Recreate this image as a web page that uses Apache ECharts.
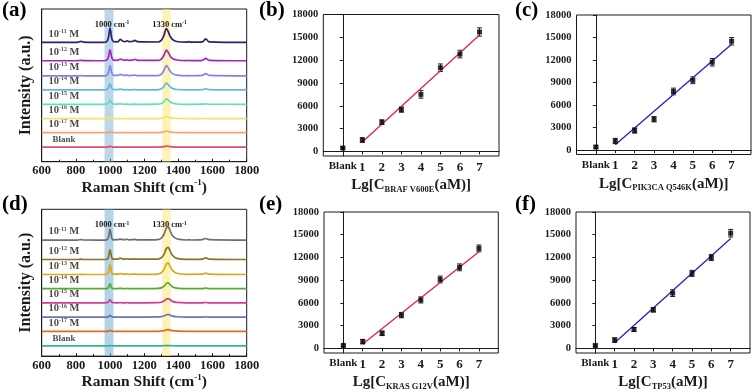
<!DOCTYPE html>
<html>
<head>
<meta charset="utf-8">
<script src="https://cdn.jsdelivr.net/npm/echarts@6/dist/echarts.min.js"></script>
<style>
  html, body { margin: 0; padding: 0; background: #fff; }
  #chart { width: 753px; height: 392px; }
</style>
</head>
<body>
<div id="chart"></div>
<script>
// Raman spectra, shared shift grid (cm-1)
const ramanShift = [600, 800, 815, 830, 845, 960, 980, 990, 1000, 1010, 1020, 1045, 1060, 1075, 1090, 1100, 1110, 1130, 1145, 1160, 1280, 1300, 1315, 1330, 1340, 1350, 1365, 1390, 1450, 1460, 1470, 1540, 1560, 1580, 1800];
const levels = ['-11', '-12', '-13', '-14', '-15', '-16', '-17', 'Blank'];

// panel (a): stacking offset of each trace and its intensity above that offset
const baselineA = [78.1, 66.1, 56.2, 47, 37.6, 28.2, 19, 9.6];
const intensityA = [
  [0, 0, 0.2, 0.7, 0.2, 0, 0.5, 2.8, 9.4, 2.8, 0.5, 0.4, 2, 0.8, 0.6, 1.1, 0.5, 0.6, 1.3, 0.5, 0.3, 1.4, 4.5, 9, 7.2, 4.5, 2, 0.6, 0.2, 0.5, 0.2, 0.4, 2.4, 0.4, 0],
  [0, 0, 0.1, 0.3, 0.1, 0, 0.4, 2.2, 7.2, 2.2, 0.4, 0.3, 1.1, 0.5, 0.4, 0.6, 0.3, 0.4, 0.9, 0.3, 0.2, 1.1, 3.5, 7, 5.6, 3.5, 1.5, 0.5, 0.1, 0.3, 0.1, 0.3, 1.5, 0.3, 0],
  [0, 0, 0, 0.2, 0, 0, 0.3, 2, 6.8, 2, 0.3, 0.3, 1, 0.4, 0.3, 0.5, 0.2, 0.3, 0.5, 0.2, 0.2, 1, 3.4, 6.8, 5.4, 3.4, 1.5, 0.5, 0.1, 0.2, 0.1, 0.3, 1.5, 0.3, 0],
  [0, 0, 0, 0.1, 0, 0, 0.2, 1.3, 4.2, 1.3, 0.2, 0.2, 0.5, 0.2, 0.1, 0.2, 0.1, 0.1, 0.2, 0.1, 0.1, 0.7, 2.2, 4.4, 3.5, 2.2, 1, 0.3, 0, 0.1, 0, 0.2, 0.7, 0.2, 0],
  [0, 0, 0, 0, 0, 0, 0.1, 0.8, 2.8, 0.8, 0.1, 0.1, 0.3, 0.1, 0, 0.1, 0, 0, 0.1, 0, 0.1, 0.5, 1.7, 3.5, 2.8, 1.7, 0.8, 0.2, 0, 0, 0, 0.1, 0.3, 0.1, 0],
  [0, 0, 0, 0, 0, 0, 0, 0.4, 1.3, 0.4, 0, 0, 0.1, 0, 0, 0, 0, 0, 0, 0, 0, 0.2, 0.7, 1.5, 1.2, 0.7, 0.3, 0.1, 0, 0, 0, 0, 0.1, 0, 0],
  [0, 0, 0, 0, 0, 0, 0, 0.2, 0.7, 0.2, 0, 0, 0, 0, 0, 0, 0, 0, 0, 0, 0, 0.2, 0.5, 1.1, 0.9, 0.5, 0.2, 0.1, 0, 0, 0, 0, 0, 0, 0],
  [0, 0, 0, 0, 0, 0, 0, 0.15, 0.5, 0.15, 0, 0, 0, 0, 0, 0, 0, 0, 0, 0, 0, 0.1, 0.3, 0.6, 0.5, 0.3, 0.1, 0, 0, 0, 0, 0, 0, 0, 0]
];

// panel (d)
const baselineD = [79, 65.8, 55.6, 45.9, 36.3, 26.6, 16.9, 7];
const intensityD = [
  [0, 0, 0.1, 0.4, 0.1, 0, 0.2, 1.5, 7.4, 1.5, 0.2, 0.3, 0.7, 0.3, 0.4, 0.6, 0.2, 0.3, 0.5, 0.2, 0.4, 1.4, 3.7, 8.3, 9.2, 6.9, 3.2, 0.9, 0.1, 0.3, 0.1, 0.3, 1.1, 0.3, 0],
  [0, 0, 0, 0.2, 0, 0, 0.2, 1.3, 6.5, 1.3, 0.2, 0.3, 0.9, 0.3, 0.3, 0.5, 0.2, 0.2, 0.4, 0.2, 0.3, 1.2, 3.3, 7.5, 8.3, 6.2, 2.9, 0.8, 0.1, 0.2, 0.1, 0.3, 1.1, 0.3, 0],
  [0, 0, 0, 0.1, 0, 0, 0.2, 1.4, 6.8, 1.4, 0.2, 0.2, 0.6, 0.2, 0.2, 0.4, 0.1, 0.2, 0.3, 0.1, 0.3, 1.2, 3.2, 7.1, 7.9, 5.9, 2.8, 0.8, 0.1, 0.1, 0.1, 0.2, 0.9, 0.2, 0],
  [0, 0, 0, 0, 0, 0, 0.1, 0.7, 3.4, 0.7, 0.1, 0.1, 0.3, 0.1, 0.1, 0.2, 0, 0.1, 0.1, 0, 0.2, 0.6, 1.6, 3.6, 4, 3, 1.4, 0.4, 0, 0, 0, 0.1, 0.4, 0.1, 0],
  [0, 0, 0, 0, 0, 0, 0.1, 0.4, 2.2, 0.4, 0.1, 0, 0.1, 0, 0, 0.1, 0, 0, 0, 0, 0.1, 0.4, 1.2, 2.6, 2.9, 2.2, 1, 0.3, 0, 0, 0, 0, 0.2, 0, 0],
  [0, 0, 0, 0, 0, 0, 0, 0.2, 1.1, 0.2, 0, 0, 0, 0, 0, 0, 0, 0, 0, 0, 0.1, 0.3, 0.7, 1.6, 1.8, 1.4, 0.6, 0.2, 0, 0, 0, 0, 0.1, 0, 0],
  [0, 0, 0, 0, 0, 0, 0, 0.1, 0.7, 0.1, 0, 0, 0, 0, 0, 0, 0, 0, 0, 0, 0, 0.2, 0.4, 1, 1.1, 0.8, 0.4, 0.1, 0, 0, 0, 0, 0, 0, 0],
  [0, 0, 0, 0, 0, 0, 0, 0.05, 0.2, 0.05, 0, 0, 0, 0, 0, 0, 0, 0, 0, 0, 0, 0, 0.1, 0.2, 0.2, 0.15, 0.05, 0, 0, 0, 0, 0, 0, 0, 0]
];

// calibration panels: Lg[C(aM)], Blank sits at 0
const lgConc = [0, 1, 2, 3, 4, 5, 6, 7];
const concLabels = ['Blank', '1', '2', '3', '4', '5', '6', '7'];
const yTicks = [0, 3000, 6000, 9000, 12000, 15000, 18000];

const signalBRAF = [450, 1500, 3850, 5500, 7500, 11000, 12800, 15700];
const errorBRAF = [150, 300, 300, 350, 500, 500, 500, 550];
const fitBRAF = [[1, 1250], [7, 15300]];

const signalPIK3CA = [400, 1200, 2600, 4100, 7800, 9300, 11700, 14500];
const errorPIK3CA = [150, 350, 350, 350, 450, 450, 500, 500];
const fitPIK3CA = [[1, 700], [7, 14100]];

const signalKRAS = [400, 900, 2000, 4400, 6400, 9100, 10700, 13200];
const errorKRAS = [150, 300, 300, 350, 400, 450, 450, 450];
const fitKRAS = [[1, 600], [7, 12750]];

const signalTP53 = [400, 1100, 2500, 5100, 7300, 9900, 12000, 15200];
const errorTP53 = [150, 300, 250, 300, 450, 400, 400, 500];
const fitTP53 = [[1, 750], [7, 14500]];

const SERIF = "'Liberation Serif', 'Times New Roman', serif";
const INK = '#1a1a1a';
const colorsA = ['#2b1f6e', '#a722c4', '#7f84e2', '#66b6e6', '#5fe0c2', '#f0e46a', '#f3a473', '#e44d68'];
const colorsD = ['#6f6f6f', '#8a7132', '#d9a81e', '#58aa36', '#d23d92', '#6973b6', '#e2691a', '#35b0a2'];

const boldText = (size) => ({ fontFamily: SERIF, fontWeight: 'bold', fontSize: size, color: INK });
const plain = (v) => String(v);

const chart = echarts.init(document.getElementById('chart'));

function ramanX(gridIndex) {
  return {
    type: 'value', gridIndex, min: 600, max: 1800, interval: 200,
    axisLine: { lineStyle: { color: INK, width: 1 } },
    axisTick: { inside: true, length: 3, lineStyle: { color: INK } },
    minorTick: { show: true, splitNumber: 2, length: 2, lineStyle: { color: INK } },
    axisLabel: Object.assign(boldText(12.5), { margin: 3, formatter: plain }),
    splitLine: { show: false },
    name: 'Raman Shift (cm{sup|-1})', nameLocation: 'middle', nameGap: 13,
    nameTextStyle: Object.assign(boldText(15.5), {
      lineHeight: 18,
      rich: { sup: Object.assign(boldText(9), { verticalAlign: 'top', lineHeight: 10 }) }
    })
  };
}
function intensityY(gridIndex) {
  return {
    type: 'value', gridIndex, min: 0, max: 100,
    axisLine: { show: true, lineStyle: { color: INK, width: 1 } },
    axisTick: { show: false }, axisLabel: { show: false }, splitLine: { show: false },
    name: 'Intensity (a.u.)', nameLocation: 'middle', nameGap: 8, nameRotate: 90,
    nameTextStyle: boldText(16)
  };
}
function concX(gridIndex, name) {
  return {
    type: 'value', gridIndex, min: -1, max: 8,
    axisLine: { lineStyle: { color: INK, width: 1 } },
    axisTick: { length: 3, customValues: lgConc, lineStyle: { color: INK } },
    axisLabel: Object.assign(boldText(13), {
      customValues: lgConc, margin: 5,
      formatter: (v) => v === 0 ? '{b|' + concLabels[0] + '}' : concLabels[lgConc.indexOf(v)],
      rich: { b: boldText(11) }
    }),
    splitLine: { show: false },
    name, nameLocation: 'middle', nameGap: 21,
    nameTextStyle: Object.assign(boldText(15), {
      lineHeight: 17,
      rich: { s: Object.assign(boldText(8.5), { verticalAlign: 'bottom', lineHeight: 9 }) }
    })
  };
}
function signalY(gridIndex) {
  return {
    type: 'value', gridIndex, min: -600, max: 18000,
    axisLine: { show: true, lineStyle: { color: INK, width: 1 } },
    axisTick: { show: true, length: 3, customValues: yTicks, lineStyle: { color: INK } },
    axisLabel: Object.assign(boldText(10.5), { customValues: yTicks, margin: 5, formatter: plain }),
    splitLine: { show: false }
  };
}

function spectraSeries(axis, baselines, intensities, colors, bandColors) {
  const list = [];
  // highlighted bands (behind the traces)
  list.push({
    type: 'line', xAxisIndex: axis, yAxisIndex: axis, data: [], silent: true,
    markArea: {
      silent: true,
      label: Object.assign(boldText(8.5), {
        position: 'insideTop', offset: [3, 6],
        formatter: (p) => p.name + ' cm{s|-1}',
        rich: { s: Object.assign(boldText(5.5), { verticalAlign: 'top', lineHeight: 6 }) }
      }),
      data: [
        [{ name: '1000', xAxis: 968, itemStyle: { color: bandColors[0] } }, { xAxis: 1020 }],
        [{ name: '1330', xAxis: 1306, itemStyle: { color: bandColors[1] } }, { xAxis: 1355 }]
      ]
    }
  });
  intensities.forEach((row, i) => {
    list.push({
      type: 'line', xAxisIndex: axis, yAxisIndex: axis, showSymbol: false, smooth: 0.35,
      lineStyle: { color: colors[i], width: 1.7 },
      data: ramanShift.map((x, j) => [x, baselines[i] + row[j]])
    });
  });
  list.push({
    type: 'scatter', xAxisIndex: axis, yAxisIndex: axis, symbolSize: 0, silent: true,
    data: baselines.map((b) => [730, b]),
    label: {
      show: true, position: 'top', distance: 3,
      formatter: (p) => levels[p.dataIndex] === 'Blank'
        ? '{b|Blank}' : '{n|10}{s|' + levels[p.dataIndex] + '}{n| M}',
      rich: {
        n: boldText(10.5),
        s: Object.assign(boldText(6), { verticalAlign: 'top', lineHeight: 7 }),
        b: boldText(9)
      }
    }
  });
  return list;
}

function calibrationSeries(axis, signal, error, fit, fitColor) {
  return [
    {
      type: 'line', xAxisIndex: axis, yAxisIndex: axis, data: fit, showSymbol: false,
      lineStyle: { color: fitColor, width: 1.3 }
    },
    {
      type: 'custom', xAxisIndex: axis, yAxisIndex: axis,
      data: lgConc.map((x, i) => [x, signal[i], error[i]]),
      renderItem: (params, api) => {
        const x = api.value(0), y = api.value(1), e = api.value(2);
        const hi = api.coord([x, y + e]);
        const lo = api.coord([x, y - e]);
        const w = 2.5;
        const st = { stroke: '#222', lineWidth: 1 };
        return {
          type: 'group', children: [
            { type: 'line', shape: { x1: hi[0], y1: hi[1], x2: lo[0], y2: lo[1] }, style: st },
            { type: 'line', shape: { x1: hi[0] - w, y1: hi[1], x2: hi[0] + w, y2: hi[1] }, style: st },
            { type: 'line', shape: { x1: lo[0] - w, y1: lo[1], x2: lo[0] + w, y2: lo[1] }, style: st }
          ]
        };
      }
    },
    {
      type: 'scatter', xAxisIndex: axis, yAxisIndex: axis, symbol: 'rect', symbolSize: 5,
      itemStyle: { color: '#000' }, z: 5,
      data: lgConc.map((x, i) => [x, signal[i]])
    }
  ];
}

const frame = { show: true, borderColor: INK, borderWidth: 1, backgroundColor: 'transparent' };
const panelTag = (text, left, top) => ({
  type: 'text', left, top, style: { text, font: 'bold 21px ' + SERIF, fill: '#000' }
});

const option = {
  animation: false,
  backgroundColor: '#fff',
  grid: [
    Object.assign({ left: 41.7, top: 9, width: 205, height: 152.7 }, frame),
    Object.assign({ left: 323.3, top: 14.5, width: 175.7, height: 141.5 }, frame),
    Object.assign({ left: 576.5, top: 15, width: 174.5, height: 139.5 }, frame),
    Object.assign({ left: 41.7, top: 209.3, width: 205, height: 148 }, frame),
    Object.assign({ left: 324, top: 212, width: 174.3, height: 143 }, frame),
    Object.assign({ left: 576, top: 212, width: 174, height: 141.3 }, frame)
  ],
  xAxis: [
    ramanX(0),
    concX(1, 'Lg[C{s|BRAF V600E}(aM)]'),
    concX(2, 'Lg[C{s|PIK3CA Q546K}(aM)]'),
    ramanX(3),
    concX(4, 'Lg[C{s|KRAS G12V}(aM)]'),
    concX(5, 'Lg[C{s|TP53}(aM)]')
  ],
  yAxis: [intensityY(0), signalY(1), signalY(2), intensityY(3), signalY(4), signalY(5)],
  graphic: [
    panelTag('(a)', 2, 0), panelTag('(b)', 259, 0), panelTag('(c)', 515, 0),
    panelTag('(d)', 2, 194), panelTag('(e)', 259, 194), panelTag('(f)', 515, 194)
  ],
  series: [].concat(
    spectraSeries(0, baselineA, intensityA, colorsA, ['rgba(120,176,212,0.5)', 'rgba(250,234,120,0.55)']),
    calibrationSeries(1, signalBRAF, errorBRAF, fitBRAF, '#e3213f'),
    calibrationSeries(2, signalPIK3CA, errorPIK3CA, fitPIK3CA, '#2121c4'),
    spectraSeries(3, baselineD, intensityD, colorsD, ['rgba(116,174,212,0.55)', 'rgba(250,234,120,0.55)']),
    calibrationSeries(4, signalKRAS, errorKRAS, fitKRAS, '#e3213f'),
    calibrationSeries(5, signalTP53, errorTP53, fitTP53, '#2121c4')
  )
};

chart.setOption(option);
</script>
</body>
</html>
